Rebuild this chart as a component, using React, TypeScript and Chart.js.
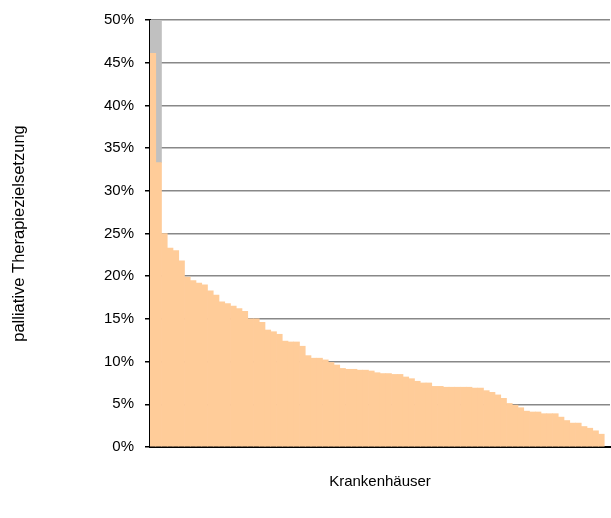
import React, { useEffect, useRef } from 'react';
import Chart from 'chart.js/auto';

const hospitalValues: (number | null)[] = [
  46.1, 33.3, 25.0, 23.3, 23.0, 21.8, 19.9, 19.5, 19.2, 19.0,
  18.3, 17.8, 17.0, 16.8, 16.5, 16.2, 15.9, 15.0, 15.0, 14.6,
  13.7, 13.5, 13.2, 12.4, 12.3, 12.3, 11.8, 10.7, 10.4, 10.4,
  10.2, 9.9, 9.6, 9.2, 9.1, 9.1, 9.0, 9.0, 8.9, 8.7,
  8.6, 8.6, 8.5, 8.5, 8.2, 8.0, 7.7, 7.5, 7.5, 7.1,
  7.1, 7.0, 7.0, 7.0, 7.0, 7.0, 6.9, 6.9, 6.6, 6.4,
  6.1, 5.7, 5.1, 4.9, 4.6, 4.2, 4.1, 4.1, 3.9, 3.9,
  3.9, 3.5, 3.1, 2.8, 2.8, 2.4, 2.2, 1.9, 1.5, null,
];
// clipped portion above the axis maximum
const overflowValues: (number | null)[] = [3.9, 16.7];
const categories = hospitalValues.map((_, i) => String(i + 1));
const yTicks = [0, 5, 10, 15, 20, 25, 30, 35, 40, 45, 50];

const fontFamily = 'Liberation Sans, Arial, sans-serif';

const App: React.FC = () => {
  const canvasRef = useRef<HTMLCanvasElement>(null);

  useEffect(() => {
    if (!canvasRef.current) return;
    const chart = new Chart(canvasRef.current, {
      type: 'bar',
      data: {
        labels: categories,
        datasets: [
          {
            data: hospitalValues,
            backgroundColor: '#FFCC99',
            barPercentage: 1,
            categoryPercentage: 1,
          },
          {
            data: overflowValues,
            backgroundColor: '#C0C0C0',
            barPercentage: 1,
            categoryPercentage: 1,
          },
        ],
      },
      options: {
        animation: false,
        responsive: false,
        layout: { padding: { top: 20, right: 1, left: 0, bottom: 0 } },
        plugins: { legend: { display: false }, tooltip: { enabled: false } },
        scales: {
          x: {
            stacked: true,
            grid: { display: false },
            border: { color: '#000', width: 2 },
            ticks: { display: false },
            title: {
              display: true,
              text: 'Krankenhäuser',
              color: '#000',
              font: { family: fontFamily, size: 15 },
              padding: { top: 0, bottom: 27 },
            },
            afterFit: (s: any) => { s.height = 71; },
          },
          y: {
            stacked: true,
            min: 0,
            max: 50,
            afterBuildTicks: (s: any) => { s.ticks = yTicks.map((v) => ({ value: v })); },
            grid: { color: '#888', lineWidth: 1.5, tickLength: 5, drawTicks: true, tickColor: '#000' },
            border: { color: '#000', width: 2 },
            ticks: {
              color: '#000',
              padding: 11,
              font: { family: fontFamily, size: 15 },
              callback: (v: any) => v + '%',
            },
            title: {
              display: true,
              text: 'palliative Therapiezielsetzung',
              color: '#000',
              font: { family: fontFamily, size: 16.5 },
              padding: { top: 10, bottom: 0 },
            },
            afterFit: (s: any) => { s.width = 150; },
          },
        },
      },
    });
    return () => chart.destroy();
  }, []);

  return (
    <div style={{ position: 'fixed', left: 0, top: 0, width: 611, height: 518, background: '#fff' }}>
      <canvas ref={canvasRef} width={611} height={518} />
    </div>
  );
};

export default App;
